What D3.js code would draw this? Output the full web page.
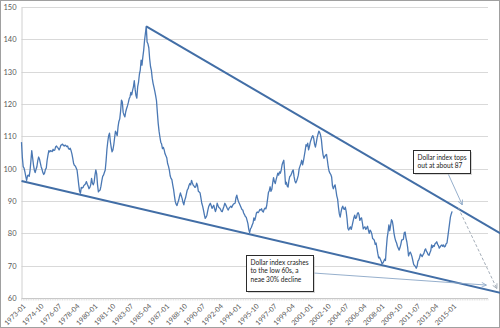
<!DOCTYPE html>
<html>
<head>
<meta charset="utf-8">
<script src="https://cdn.jsdelivr.net/npm/d3@7"></script>
<style>
  html, body { margin: 0; padding: 0; background: #fff; }
  svg { display: block; }
  text { font-family: Lato, "Liberation Sans", sans-serif; }
</style>
</head>
<body>
<svg id="chart" width="500" height="328"></svg>
<script>
// Trade-weighted dollar index (major currencies), monthly from 1973-01.
const firstYear = 1973;
const index1970s = [
  108.2, 103.4, 100.6, 100.2, 99.0, 97.6, 96.4, 97.8, 98.0, 97.6, 99.4, 102.4,   // 1973
  105.6, 103.4, 101.2, 99.6, 98.8, 99.8, 100.6, 102.4, 103.6, 103.0, 101.8, 100.6, // 1974
  99.8, 98.8, 98.2, 98.6, 99.8, 100.2, 102.6, 104.2, 105.6, 105.2, 105.6, 105.4,  // 1975
  105.3, 106.0, 105.6, 105.8, 106.8, 107.0, 106.6, 106.3, 105.8, 106.4, 107.2, 107.4, // 1976
  107.6, 107.2, 107.0, 107.3, 107.1, 106.8, 107.0, 106.2, 106.0, 106.3, 105.6, 104.6, // 1977
  103.2, 101.6, 101.0, 100.8, 100.2, 99.6, 97.4, 95.0, 93.0, 92.4, 94.2, 94.0,    // 1978
  94.2, 94.8, 95.0, 95.4, 96.0, 95.2, 94.6, 93.8, 94.2, 95.0, 97.0, 95.6          // 1979
];
const index1980s = [
  95.0, 95.8, 98.0, 99.6, 98.4, 95.0, 92.8, 93.2, 93.4, 94.6, 96.2, 97.6,         // 1980
  98.0, 98.8, 99.6, 102.4, 106.0, 108.4, 110.2, 111.0, 108.4, 106.6, 105.2, 105.8, // 1981
  107.4, 109.6, 111.6, 111.0, 110.2, 112.9, 114.6, 115.4, 117.8, 121.2, 120.6, 117.4, // 1982
  116.6, 116.0, 117.6, 118.6, 119.4, 120.4, 121.6, 122.2, 123.6, 122.8, 124.2, 125.3, // 1983
  127.2, 124.6, 122.6, 121.8, 125.4, 126.8, 129.2, 130.5, 133.6, 132.0, 134.5, 136.6, // 1984
  139.6, 141.8, 144.0, 139.2, 138.6, 137.4, 134.0, 131.6, 130.4, 128.0, 126.4, 125.2, // 1985
  124.0, 122.6, 121.0, 117.4, 114.0, 111.6, 109.8, 108.2, 107.6, 106.2, 106.6, 105.8, // 1986
  104.6, 104.0, 103.4, 101.6, 100.8, 99.6, 97.8, 97.0, 96.6, 95.0, 93.6, 91.6,    // 1987
  89.8, 89.0, 88.6, 89.5, 90.3, 91.5, 92.5, 91.6, 90.8, 89.6, 88.8, 90.2,         // 1988
  91.0, 92.2, 93.4, 93.8, 94.8, 95.4, 95.0, 96.4, 95.6, 94.9, 94.6, 94.2          // 1989
];
const index1990s = [
  94.4, 95.5, 94.8, 93.0, 92.8, 92.5, 91.0, 89.3, 88.4, 87.2, 85.8, 84.6,         // 1990
  85.0, 85.6, 87.0, 88.2, 88.8, 89.3, 88.6, 87.7, 88.2, 88.7, 87.6, 86.7,         // 1991
  87.6, 89.3, 88.6, 88.0, 87.8, 87.4, 86.8, 86.7, 87.6, 88.4, 89.3, 88.8,         // 1992
  88.2, 87.6, 87.2, 87.8, 88.1, 88.4, 88.0, 88.6, 89.0, 89.2, 89.3, 91.0,         // 1993
  91.8, 90.6, 89.8, 89.2, 88.6, 88.0, 87.4, 87.2, 86.3, 85.8, 85.2, 85.0,         // 1994
  84.0, 83.0, 81.2, 80.2, 81.4, 81.8, 82.6, 83.2, 84.8, 84.0, 85.0, 86.3,         // 1995
  86.6, 86.4, 86.8, 87.4, 87.2, 87.6, 86.8, 86.6, 87.4, 87.8, 87.6, 88.6,         // 1996
  90.6, 92.6, 93.2, 94.4, 93.0, 93.6, 95.6, 97.2, 96.0, 95.4, 96.6, 97.6,         // 1997
  98.6, 98.0, 99.0, 98.6, 99.6, 101.2, 102.0, 102.6, 99.2, 95.2, 95.8, 94.6,      // 1998
  94.3, 96.4, 97.6, 97.8, 98.4, 99.2, 99.6, 97.6, 96.2, 95.6, 96.2, 97.0          // 1999
];
const index2000s = [
  98.0, 100.0, 100.8, 101.6, 102.6, 101.2, 102.4, 104.0, 105.6, 107.4, 107.0, 107.9, // 2000
  105.8, 106.8, 108.2, 109.0, 109.8, 110.2, 109.4, 107.6, 106.7, 108.0, 109.6, 110.6, // 2001
  111.6, 111.2, 110.4, 109.0, 106.2, 104.2, 103.2, 103.8, 104.2, 104.4, 102.6, 100.6, // 2002
  99.2, 98.6, 98.2, 97.4, 94.6, 93.8, 94.6, 95.0, 93.4, 91.6, 90.6, 88.0,         // 2003
  86.0, 85.0, 86.6, 87.8, 88.4, 87.6, 87.4, 88.1, 86.8, 84.6, 81.6, 81.0,         // 2004
  81.6, 82.0, 81.2, 82.4, 83.6, 84.8, 85.6, 84.6, 84.8, 86.0, 86.4, 85.8,         // 2005
  84.0, 84.6, 84.8, 83.2, 81.4, 81.8, 82.0, 81.2, 81.6, 82.2, 81.0, 80.0,         // 2006
  81.0, 80.6, 79.8, 78.4, 78.2, 77.8, 76.6, 77.0, 75.4, 73.8, 72.4, 72.6,         // 2007
  72.0, 71.4, 70.6, 70.8, 71.4, 72.0, 71.6, 75.4, 78.6, 80.4, 82.6, 80.8,         // 2008
  82.4, 84.2, 83.8, 82.2, 80.0, 78.6, 77.6, 77.0, 76.0, 75.4, 74.8, 75.6          // 2009
];
const index2010s = [
  76.6, 78.0, 78.0, 78.2, 80.2, 80.4, 78.6, 77.4, 75.6, 73.0, 73.8, 74.2,         // 2010
  73.6, 72.8, 71.6, 70.4, 70.0, 69.8, 69.2, 69.8, 71.4, 71.8, 72.6, 73.6,         // 2011
  73.2, 72.8, 73.4, 73.8, 74.8, 75.2, 74.4, 74.0, 73.4, 73.2, 74.0, 74.6,         // 2012
  76.4, 75.6, 76.2, 76.0, 76.8, 77.0, 77.4, 76.6, 76.2, 75.4, 75.8, 76.2,         // 2013
  76.4, 76.0, 76.4, 75.8, 76.0, 76.8, 77.0, 79.0, 81.0, 83.0, 85.0, 86.0,         // 2014
  86.8                                                                            // 2015
];

const xTickLabels = [
  "1973-01", "1974-10", "1976-07", "1978-04", "1980-01", "1981-10", "1983-07",
  "1985-04", "1987-01", "1988-10", "1990-07", "1992-04", "1994-01", "1995-10",
  "1997-07", "1999-04", "2001-01", "2002-10", "2004-07", "2006-04", "2008-01",
  "2009-10", "2011-07", "2013-04", "2015-01"
];
const yTickValues = [60, 70, 80, 90, 100, 110, 120, 130, 140, 150];

// Channel lines: [month index, index level] end points
const upperChannel = [[146, 144.0], [560.5, 80.0]];
const lowerChannel = [[0, 96.2], [560.5, 61.6]];

// Annotation anchors in [month index, index level]
const topsTip = [515.9, 88.8];
const projectionFrom = [511.4, 87.8];
const projectionTo = [556.4, 62.9];
const crashTip = [544.1, 64.0];

const topsText = ["Dollar index tops", "out at about 87"];
const crashText = ["Dollar index crashes", "to the low 60s, a", "neae 30% decline"];

// ---------- drawing ----------
const series = index1970s.concat(index1980s, index1990s, index2000s, index2010s);
const svg = d3.select("#chart");
const W = 500, H = 328;
const plot = { left: 21.5, right: 488, top: 7, bottom: 298 };

const x = d3.scaleLinear().domain([0, 546]).range([plot.left, plot.right]);
const y = d3.scaleLinear().domain([60, 150]).range([plot.bottom, plot.top]);

const monthIndex = s => (+s.slice(0, 4) - firstYear) * 12 + (+s.slice(5, 7) - 1);

// outer frame
svg.append("rect")
  .attr("x", 0.5).attr("y", 0.5).attr("width", W - 1).attr("height", H - 1)
  .attr("fill", "#fff").attr("stroke", "#a0a0a0").attr("stroke-width", 1);

// horizontal gridlines
svg.append("g").selectAll("line").data(yTickValues.filter(v => v !== 60)).join("line")
  .attr("x1", plot.left).attr("x2", plot.right)
  .attr("y1", d => Math.round(y(d)) + 0.5).attr("y2", d => Math.round(y(d)) + 0.5)
  .attr("stroke", "#d9d9d9").attr("stroke-width", 1);

// y axis
const yAxis = d3.axisLeft(y).tickValues(yTickValues).tickSize(0).tickPadding(5);
const gy = svg.append("g").attr("transform", `translate(${plot.left},0)`).call(yAxis);
gy.select(".domain").attr("stroke", "#d0d0d0");
gy.selectAll("text").attr("fill", "#595959").style("font-size", "7.5px")
  .style("font-family", "Lato, 'Liberation Sans', sans-serif");

// x axis with a tick at every other month
const monthTicks = d3.range(0, 547);
const gx = svg.append("g").attr("transform", `translate(0,${plot.bottom})`);
gx.append("line").attr("x1", plot.left).attr("x2", plot.right).attr("y1", 0.5).attr("y2", 0.5)
  .attr("stroke", "#c8c8c8");
gx.selectAll("line.mt").data(monthTicks.filter(d => d % 2 === 0)).join("line").attr("class", "mt")
  .attr("x1", d => x(d)).attr("x2", d => x(d)).attr("y1", 0.5).attr("y2", 2.5)
  .attr("stroke", "#cfcfcf").attr("stroke-width", 0.6);
gx.selectAll("text").data(xTickLabels).join("text")
  .attr("transform", d => `translate(${x(monthIndex(d)) + 3},${7}) rotate(-45)`)
  .attr("text-anchor", "end").attr("dy", "0.35em")
  .attr("fill", "#595959").style("font-size", "7px")
  .text(d => d);

// index line
const line = d3.line().x((d, i) => x(i)).y(d => y(d));
svg.append("path").datum(series)
  .attr("d", line).attr("fill", "none")
  .attr("stroke", "#4a78b4").attr("stroke-width", 1.3).attr("stroke-linejoin", "round");

// channel lines
const seg = d3.line().x(d => x(d[0])).y(d => y(d[1]));
[upperChannel, lowerChannel].forEach(c => {
  svg.append("path").datum(c).attr("d", seg).attr("fill", "none")
    .attr("stroke", "#426ea6").attr("stroke-width", 2);
});

// arrow markers
const defs = svg.append("defs");
function marker(id, color) {
  defs.append("marker").attr("id", id).attr("viewBox", "0 0 10 10")
    .attr("refX", 9).attr("refY", 5).attr("markerWidth", 6).attr("markerHeight", 6)
    .attr("markerUnits", "userSpaceOnUse").attr("orient", "auto")
    .append("path").attr("d", "M1,1 L9,5 L1,9").attr("fill", "none")
    .attr("stroke", color).attr("stroke-width", 1.3);
}
marker("arrGray", "#9aa4b0");
marker("arrBlue", "#8aa6c6");

// callout boxes
function callout(bx, by, bw, bh, lines, lineGap) {
  svg.append("rect").attr("x", bx + 1.5).attr("y", by + 1.5).attr("width", bw).attr("height", bh)
    .attr("fill", "#bdbdbd").attr("opacity", 0.6);
  svg.append("rect").attr("x", bx).attr("y", by).attr("width", bw).attr("height", bh)
    .attr("fill", "#fff").attr("stroke", "#2b2b2b").attr("stroke-width", 1);
  svg.append("g").selectAll("text").data(lines).join("text")
    .attr("x", bx + 4).attr("y", (d, i) => by + 9 + i * lineGap)
    .attr("fill", "#1a1a1a").style("font-size", "6.6px").text(d => d);
}

// "tops out" pointer, projection and "crash" pointer
svg.append("line").attr("x1", 448).attr("y1", 173.5)
  .attr("x2", x(topsTip[0])).attr("y2", y(topsTip[1]))
  .attr("stroke", "#8aa6c6").attr("stroke-width", 0.9).attr("marker-end", "url(#arrBlue)");
svg.append("line").attr("x1", x(projectionFrom[0])).attr("y1", y(projectionFrom[1]))
  .attr("x2", x(projectionTo[0])).attr("y2", y(projectionTo[1]))
  .attr("stroke", "#9aa4b0").attr("stroke-width", 0.9).attr("stroke-dasharray", "3,2")
  .attr("marker-end", "url(#arrGray)");
svg.append("line").attr("x1", 313.5).attr("y1", 273)
  .attr("x2", x(crashTip[0])).attr("y2", y(crashTip[1]))
  .attr("stroke", "#8aa6c6").attr("stroke-width", 0.9).attr("marker-end", "url(#arrBlue)");

callout(413.5, 150.5, 57, 23, topsText, 8);
callout(246.5, 255.5, 67, 36, crashText, 8.7);
</script>
</body>
</html>
